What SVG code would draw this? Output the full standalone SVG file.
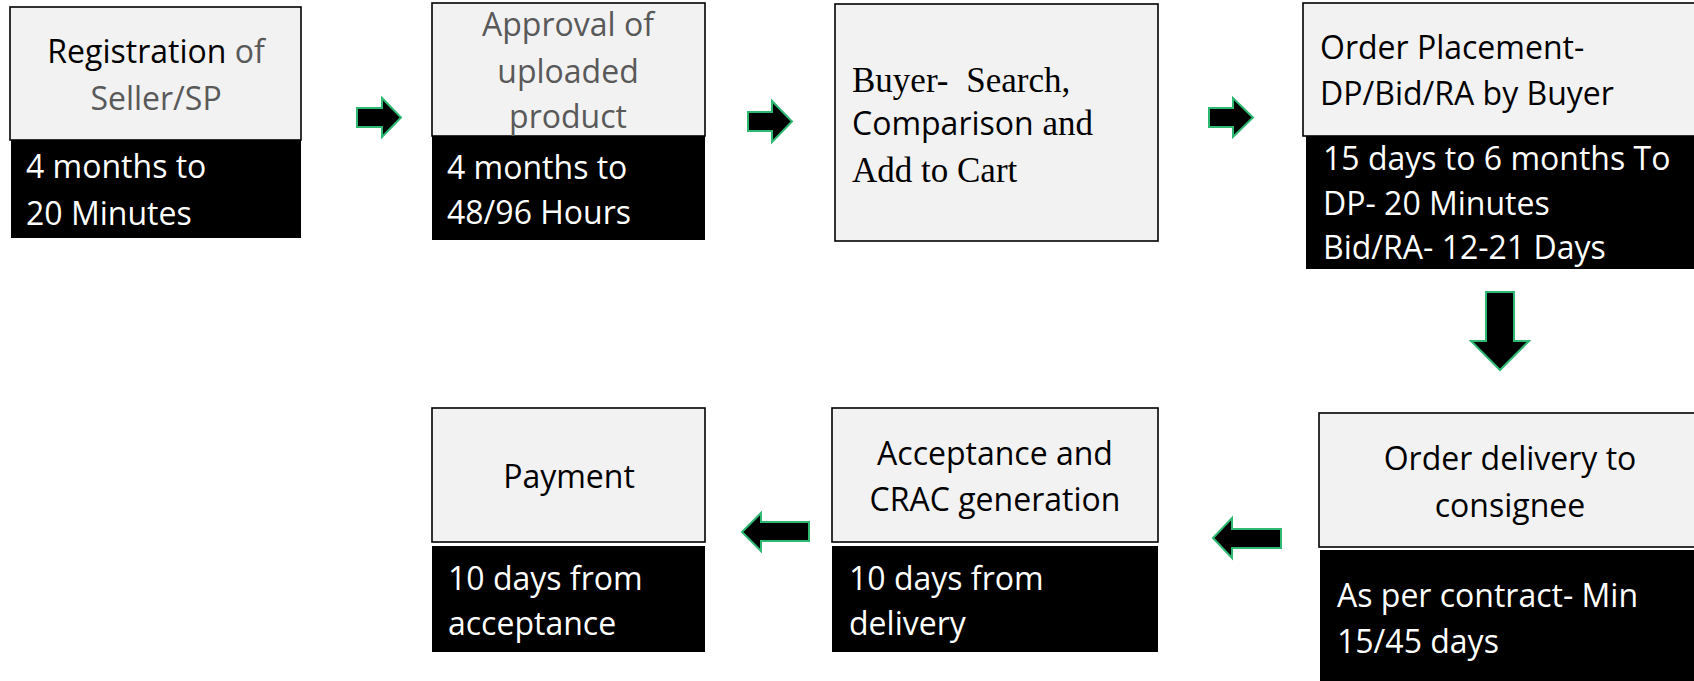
<svg xmlns="http://www.w3.org/2000/svg" width="1694" height="681" viewBox="0 0 1694 681">
<style>
.box{fill:#f2f2f2;stroke:#000;stroke-width:1.6}
.blk{fill:#000}
.t{font-family:"Open Sans","Noto Sans","Liberation Sans",sans-serif;font-size:32px;fill:#000}
.g{fill:#595959}
.w{fill:#fff}
.c{text-anchor:middle}
.serif{font-family:"Liberation Serif","Times New Roman",serif;font-size:35px;fill:#000}
.arr{fill:#000;stroke:#2eb872;stroke-width:2}
</style>
<rect width="1694" height="681" fill="#fff"/>
<g id="connectors">
<polygon class="arr" points="357,108 382,108 382,98 401,117.5 382,137 382,127 357,127"/>
<polygon class="arr" points="748,112 772,112 772,101 792,121.5 772,142 772,131 748,131"/>
<polygon class="arr" points="1209,108 1233,108 1233,98 1253,117.5 1233,137 1233,127 1209,127"/>
<polygon class="arr" points="1486,292 1514,292 1514,341 1529,341 1500,370 1471,341 1486,341"/>
<polygon class="arr" points="1281,529 1232,529 1232,518 1213,538 1232,558 1232,548 1281,548"/>
<polygon class="arr" points="809,522 761,522 761,513 742,532 761,551 761,541 809,541"/>
</g>
<g id="n1">
<rect class="box" x="10" y="7" width="291" height="133"/>
<rect class="blk" x="11" y="140" width="290" height="98"/>
<text class="t c" x="156" y="63">Registration <tspan class="g">of</tspan></text>
<text class="t c g" x="156" y="110">Seller/SP</text>
<text class="t w" x="26" y="178">4 months to</text>
<text class="t w" x="26" y="225">20 Minutes</text>
</g>
<g id="n2">
<rect class="box" x="432" y="3" width="273" height="133"/>
<rect class="blk" x="432" y="136" width="273" height="104"/>
<text class="t c g" x="568" y="36">Approval of</text>
<text class="t c g" x="568" y="83">uploaded</text>
<text class="t c g" x="568" y="128">product</text>
<text class="t w" x="447" y="179">4 months to</text>
<text class="t w" x="447" y="224">48/96 Hours</text>
</g>
<g id="n3">
<rect class="box" x="835" y="4" width="323" height="237"/>
<text class="serif" x="852" y="92">Buyer- <tspan dx="9">Search,</tspan></text>
<text class="serif" x="852" y="135"><tspan class="t">Comparison</tspan> and</text>
<text class="serif" x="852" y="182">Add to Cart</text>
</g>
<g id="n4">
<rect class="box" x="1303" y="3" width="400" height="133"/>
<rect class="blk" x="1306" y="136" width="400" height="133"/>
<text class="t" x="1320" y="59">Order Placement-</text>
<text class="t" x="1320" y="105">DP/Bid/RA by Buyer</text>
<text class="t w" x="1323" y="170">15 days to 6 months To</text>
<text class="t w" x="1323" y="215">DP- 20 Minutes</text>
<text class="t w" x="1323" y="259">Bid/RA- 12-21 Days</text>
</g>
<g id="n5">
<rect class="box" x="1319" y="413" width="390" height="134"/>
<rect class="blk" x="1320" y="550" width="390" height="140"/>
<text class="t c" x="1510" y="470">Order delivery to</text>
<text class="t c" x="1510" y="517">consignee</text>
<text class="t w" x="1337" y="607">As per contract- Min</text>
<text class="t w" x="1337" y="653">15/45 days</text>
</g>
<g id="n6">
<rect class="box" x="832" y="408" width="326" height="134"/>
<rect class="blk" x="832" y="546" width="326" height="106"/>
<text class="t c" x="995" y="465">Acceptance and</text>
<text class="t c" x="995" y="511">CRAC generation</text>
<text class="t w" x="849" y="590">10 days from</text>
<text class="t w" x="849" y="635">delivery</text>
</g>
<g id="n7">
<rect class="box" x="432" y="408" width="273" height="134"/>
<rect class="blk" x="432" y="546" width="273" height="106"/>
<text class="t c" x="569" y="488">Payment</text>
<text class="t w" x="448" y="590">10 days from</text>
<text class="t w" x="448" y="635">acceptance</text>
</g>
</svg>
